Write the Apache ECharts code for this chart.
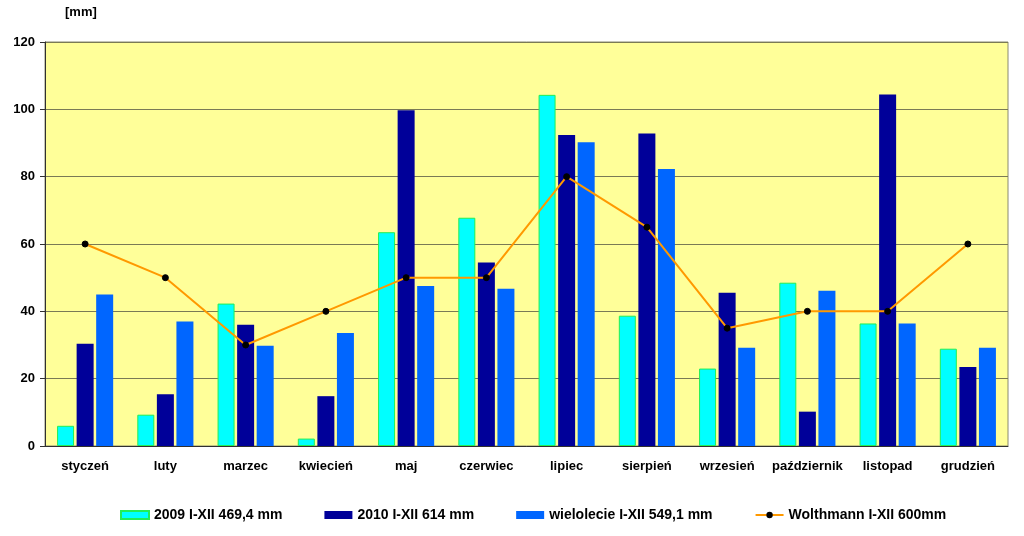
<!DOCTYPE html>
<html>
<head>
<meta charset="utf-8">
<script src="https://cdn.jsdelivr.net/npm/echarts@6/dist/echarts.min.js"></script>
<style>html,body{margin:0;padding:0;background:#fff;}#c{width:1024px;height:536px;}</style>
</head>
<body>
<div id="c"></div>
<script>
const categories = ['styczeń','luty','marzec','kwiecień','maj','czerwiec','lipiec','sierpień','wrzesień','październik','listopad','grudzień'];
const s2009 = [6, 9.3, 42.3, 2.2, 63.5, 67.8, 104.3, 38.7, 23, 48.5, 36.4, 28.9];
const s2010 = [30.4, 15.4, 36, 14.8, 99.7, 54.5, 92.4, 92.8, 45.5, 10.2, 104.4, 23.5];
const sWiel = [45, 37, 29.8, 33.6, 47.5, 46.7, 90.2, 82.3, 29.2, 46.1, 36.4, 29.2];
const sWolth = [60, 50, 30, 40, 50, 50, 80, 65, 35, 40, 40, 60];
const seriesNames = ['2009 I-XII 469,4 mm','2010 I-XII 614 mm','wielolecie I-XII 549,1 mm','Wolthmann I-XII 600mm'];
const yTicks = {min: 0, max: 120, interval: 20};
const unitLabel = '[mm]';

const font = 'Arial, "Liberation Sans", sans-serif';
const chart = echarts.init(document.getElementById('c'), null, {renderer: 'canvas'});
chart.setOption({
  animation: false,
  backgroundColor: '#ffffff',
  textStyle: {fontFamily: font},
  graphic: [{
    type: 'text', left: 65, top: 6,
    style: {text: unitLabel, font: 'bold 13px ' + font, fill: '#000'}
  }],
  legend: {
    left: 115, top: 503, itemGap: 42, itemWidth: 28, itemHeight: 8,
    textStyle: {fontFamily: font, fontWeight: 'bold', fontSize: 14, color: '#000'},
    data: [
      {name: seriesNames[0], icon: 'rect'},
      {name: seriesNames[1], icon: 'rect'},
      {name: seriesNames[2], icon: 'rect'},
      {name: seriesNames[3]}
    ]
  },
  grid: {left: 45, right: 16, top: 42, bottom: 90, show: true, backgroundColor: '#FFFF99', borderColor: '#8a8a70', borderWidth: 1},
  xAxis: {
    type: 'category', data: categories,
    axisLine: {lineStyle: {color: '#303030', width: 1}},
    axisTick: {show: false},
    axisLabel: {fontFamily: font, fontWeight: 'bold', fontSize: 13, color: '#000', margin: 14, interval: 0}
  },
  yAxis: {
    type: 'value', min: yTicks.min, max: yTicks.max, interval: yTicks.interval,
    axisLine: {show: true, lineStyle: {color: '#303030', width: 1}},
    axisTick: {show: true, length: 5, lineStyle: {color: '#303030'}},
    axisLabel: {fontFamily: font, fontWeight: 'bold', fontSize: 13, color: '#000', margin: 10},
    splitLine: {lineStyle: {color: '#7a7a55', width: 1.2}}
  },
  series: [
    {name: seriesNames[0], type: 'bar', data: s2009, barWidth: 17, barGap: '15%',
     itemStyle: {color: '#00FFFF', borderColor: '#22EE55', borderWidth: 1}},
    {name: seriesNames[1], type: 'bar', data: s2010, barWidth: 17, barGap: '15%',
     itemStyle: {color: '#000099'}},
    {name: seriesNames[2], type: 'bar', data: sWiel, barWidth: 17, barGap: '15%',
     itemStyle: {color: '#0066FF'}},
    {name: seriesNames[3], type: 'line', data: sWolth, symbol: 'circle', symbolSize: 6,
     lineStyle: {color: '#FF9900', width: 2},
     itemStyle: {color: '#000000', borderColor: '#000000'}, z: 5}
  ]
});
</script>
</body>
</html>
